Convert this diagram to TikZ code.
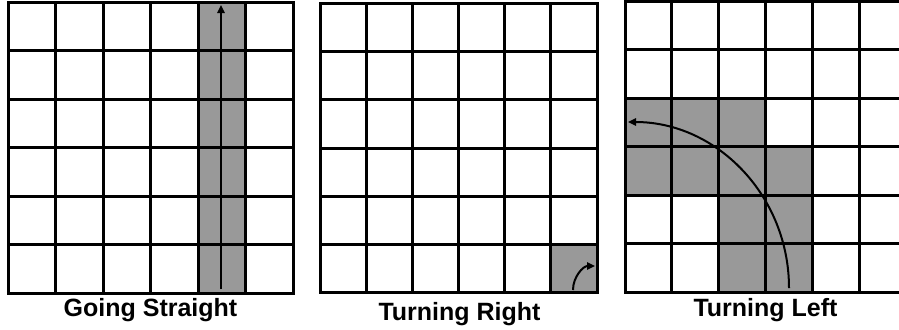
\documentclass[tikz,border=0pt]{standalone}
\usepackage{fontspec}
\setmainfont{Liberation Sans}
\usetikzlibrary{arrows.meta}
\definecolor{cellgray}{gray}{0.6}

% six by six grid: left, top, cell width, cell height
\newcommand{\sixgrid}[4]{%
  \foreach \i in {0,...,6} {
    \draw[gridline] ({#1+\i*#3},#2) -- ({#1+\i*#3},{#2+6*#4});
    \draw[gridline] (#1,{#2+\i*#4}) -- ({#1+6*#3},{#2+\i*#4});
  }}
% shaded cell: left, top, cell width, cell height, column, row
\newcommand{\graycell}[6]{%
  \fill[cellgray] ({#1+(#5-1)*#3},{#2+(#6-1)*#4}) rectangle ++(#3,#4);}

\begin{document}
\begin{tikzpicture}[x=0.5pt, y=-0.5pt,
  gridline/.style={line width=1.5pt, line cap=rect},
  path/.style={line width=1pt, -{Triangle[length=4pt, width=3.6pt]}},
  caption/.style={font=\fontsize{12.5}{15}\selectfont\bfseries, anchor=base, inner sep=0pt}]
\useasboundingbox (0,0) rectangle (899,329);
\clip (0,0) rectangle (899,329);

% going straight
\foreach \r in {1,...,6} \graycell{8}{2}{47.5}{48.5}{5}{\r};
\sixgrid{8}{2}{47.5}{48.5}
\coordinate (s0) at (221,289);
\coordinate (s1) at (221,5);
\draw[path] (s0) -- (s1);
\node[caption] (going) at (150.5,316) {Going Straight};

% turning right
\graycell{320}{3}{46.17}{48.33}{6}{6}
\sixgrid{320}{3}{46.17}{48.33}
\coordinate (r0) at (573,290);
\coordinate (r1) at (595,266);
\draw[path] (r0) .. controls (573,277) and (583,266) .. (r1);
\node[caption] (right) at (459.5,320) {Turning Right};

% turning left
\foreach \c in {1,2,3} \graycell{625}{1}{46.8}{48.5}{\c}{3};
\foreach \c in {1,...,4} \graycell{625}{1}{46.8}{48.5}{\c}{4};
\foreach \r in {5,6} {
  \graycell{625}{1}{46.8}{48.5}{3}{\r}
  \graycell{625}{1}{46.8}{48.5}{4}{\r}
}
\sixgrid{625}{1}{46.8}{48.5}
\coordinate (l0) at (789,288);
\coordinate (l1) at (628,122);
\draw[path] (l0) .. controls (789,196) and (717,122) .. (l1);
\node[caption] (left) at (765.5,316) {Turning Left};
\end{tikzpicture}
\end{document}
